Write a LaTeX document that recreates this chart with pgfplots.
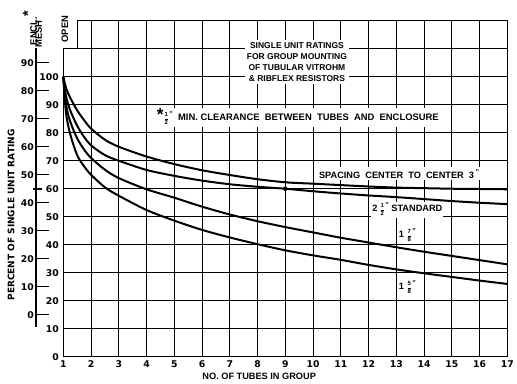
\documentclass[border=0pt]{standalone}
\usepackage{fontspec}
\setmainfont{Liberation Sans}
\newfontfamily\dvs{DejaVu Sans}
\usepackage{pgfplots}
\pgfplotsset{compat=1.18}
\newcommand{\fr}[2]{{\fontsize{6}{7}\selectfont\setlength\arrayrulewidth{0.6pt}\setlength\tabcolsep{0pt}\begin{tabular}{c}\bfseries #1\\\hline\bfseries #2\end{tabular}}}
\newcommand{\qm}{\kern1.5pt\raisebox{0.8ex}{\scriptsize"}}
\newcommand{\tlab}{\dvs\fontsize{9.3}{11}\selectfont\bfseries}
\newcommand{\lab}{\fontsize{9.4}{11}\selectfont\bfseries}
\begin{document}
\begin{tikzpicture}
\begin{axis}[
  scale only axis, width=444pt, height=336pt,
  xmin=1, xmax=17, ymin=0, ymax=120,
  xtick={1,...,17}, ytick={0,10,...,100},
  extra y ticks={110,120}, extra y tick labels={},
  extra tick style={grid=major},
  grid=major, major grid style={black, line width=0.9pt},
  axis line style={draw=none},
  major tick length=0pt,
  tick label style={font=\tlab},
  yticklabel style={xshift=-1pt},
  /pgf/number format/assume math mode=true,
  clip=false,
]
% white step region top-left
\fill[white] (axis cs:0.97,110.4) rectangle (axis cs:1.5,121);
% frame
\draw[line width=1.2pt] (axis cs:1,0) -- (axis cs:17,0) -- (axis cs:17,120) -- (axis cs:1.5,120) -- (axis cs:1.5,110) -- (axis cs:1,110) -- cycle;
% heavy lines
\draw[line width=1.3pt] (axis cs:9,0) -- (axis cs:9,120);
\draw[line width=1.4pt, dash pattern=on 12pt off 2pt] (axis cs:1,60) -- (axis cs:17,60);
% ENCL. MESH scale
\draw[line width=1.1pt] (axis cs:0.016,10.5) -- (axis cs:0.016,110.2);
\pgfplotsinvokeforeach{0,10,...,90}{
  \draw[line width=0.9pt] (axis cs:0.016,{#1+15}) -- (axis cs:0.47,{#1+15});
  \node[anchor=east, font=\tlab, inner sep=2pt] at (axis cs:0.016,{#1+15}) {#1};
}
\draw[line width=1.8pt] (axis cs:-0.1,60) -- (axis cs:0.25,60);
% text
\node[rotate=90, font=\lab] at (axis cs:-0.2,117.4) {ENCL.\textsuperscript{\Large *}};
\node[rotate=90, font=\lab] at (axis cs:0.11,115.3) {MESH};
\node[rotate=90, font=\lab] at (axis cs:1.06,117) {OPEN};
\node[rotate=90, font={\dvs\fontsize{9}{11}\selectfont\bfseries}] at (axis cs:-0.88,50.6) {PERCENT OF SINGLE UNIT RATING};
\node[font={\fontsize{9.2}{11}\selectfont\bfseries}] at (axis cs:8.06,-6.9) {NO. OF TUBES IN GROUP};
\node[fill=white, align=center, inner sep=2pt, font={\fontsize{8.5}{11.2}\selectfont\bfseries}] at (axis cs:9.42,105.2)
  {SINGLE UNIT RATINGS\\FOR GROUP MOUNTING\\OF TUBULAR VITROHM\\\& RIBFLEX RESISTORS};
\node[fill=white, inner sep=1pt, font={\fontsize{9.4}{11}\selectfont\bfseries}] at (axis cs:9.45,85.4)
  {{\LARGE *}\kern1pt\fr{1}{2}\qm\ \ MIN.\ CLEARANCE\ \ BETWEEN\ \ TUBES\ \ AND\ \ ENCLOSURE};
\node[fill=white, inner sep=2pt, font={\fontsize{9.2}{11}\selectfont\bfseries}] at (axis cs:13.1,65.3)
  {SPACING\ \ CENTER\ \ TO\ \ CENTER\ \ 3\qm};
\node[fill=white, inner sep=1pt, font={\fontsize{9.2}{11}\selectfont\bfseries}] at (axis cs:13.4,52.4)
  {2\kern3pt\fr{1}{2}\qm\ STANDARD};
\node[fill=white, inner sep=1pt, font={\fontsize{9.2}{11}\selectfont\bfseries}] at (axis cs:13.4,43.1)
  {1\kern3.5pt\fr{7}{8}\qm};
\node[fill=white, inner sep=1pt, font={\fontsize{9.2}{11}\selectfont\bfseries}] at (axis cs:13.4,24.6)
  {1\kern3.5pt\fr{5}{8}\qm};
% curves
\addplot[black, line width=2pt, smooth, tension=0.5] coordinates {
 (1,100) (1.1,96) (1.25,92.5) (1.5,88) (1.75,84.5) (2,81.5) (2.5,77.5) (3,75) (4,71.5) (5,68.8) (6,66.6) (7,64.9) (8,63.4) (9,62.3) (10,61.8) (11,61.3) (12,60.8) (13,60.4) (14,60.2) (15,60.0) (16,59.9) (17,59.8)};
\addplot[black, line width=2pt, smooth, tension=0.5] coordinates {
 (1,100) (1.1,93) (1.25,88) (1.5,82.5) (1.75,78.5) (2,75.5) (2.5,72) (3,70) (4,66.7) (5,64.6) (6,62.9) (7,61.6) (8,60.7) (9,60) (10,59.1) (11,58.3) (12,57.6) (13,57) (14,56.3) (15,55.6) (16,55) (17,54.5)};
\addplot[black, line width=2pt, smooth, tension=0.5] coordinates {
 (1,100) (1.1,90) (1.25,84) (1.5,78) (1.75,74) (2,71) (2.5,66.8) (3,63.8) (4,59.8) (5,56.8) (6,53.6) (7,50.8) (8,48.4) (9,46.3) (10,44.4) (11,42.5) (12,40.8) (13,39.1) (14,37.5) (15,36) (16,34.5) (17,33)};
\addplot[black, line width=2pt, smooth, tension=0.5] coordinates {
 (1,100) (1.1,87) (1.25,79.5) (1.5,72) (1.75,68) (2,65) (2.5,60.5) (3,57.5) (4,52.4) (5,48.6) (6,45.3) (7,42.6) (8,40.2) (9,38) (10,36.2) (11,34.6) (12,32.8) (13,31.2) (14,29.8) (15,28.5) (16,27.2) (17,26)};
\addplot[black, only marks, mark=*, mark size=2pt] coordinates {(9,60)};
\coordinate (BL) at (axis cs:-1.28,-9.4);
\coordinate (TR) at (axis cs:17.35,127.4);
\end{axis}
\pgfresetboundingbox
\path[use as bounding box] (BL) rectangle (TR);
\end{tikzpicture}
\end{document}
